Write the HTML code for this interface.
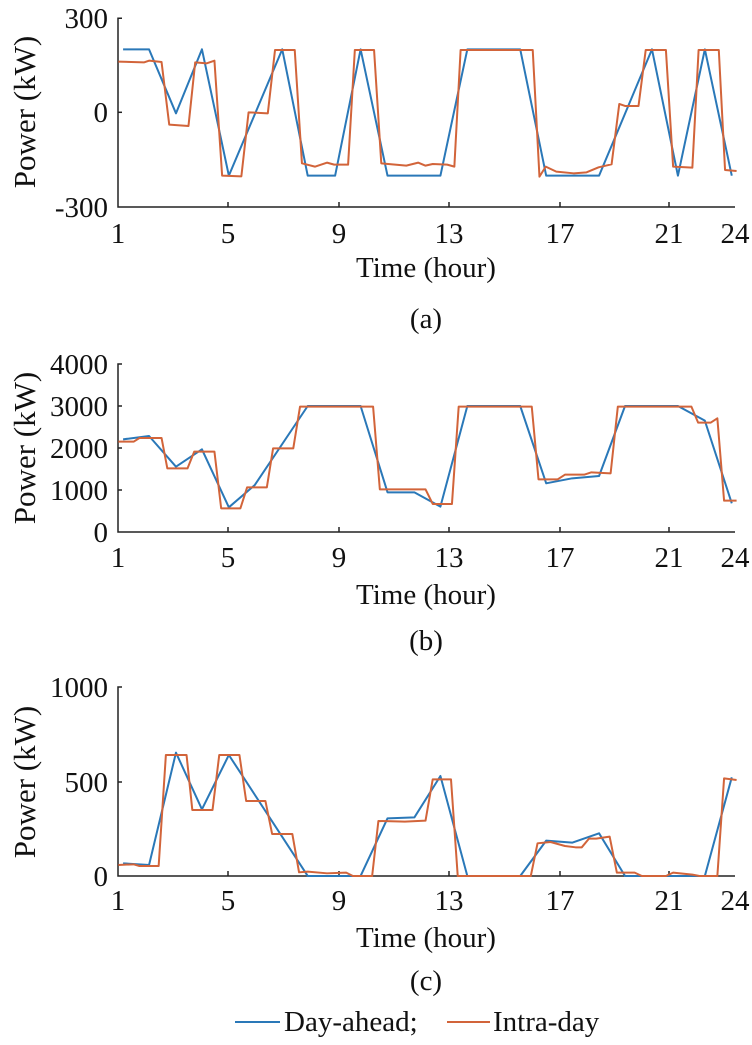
<!DOCTYPE html>
<html><head><meta charset="utf-8"><style>
html,body{margin:0;padding:0;background:#fff;}
svg{display:block;}
</style></head><body>
<svg width="752" height="1045" viewBox="0 0 752 1045" xmlns="http://www.w3.org/2000/svg" font-family="'Liberation Serif', 'DejaVu Serif', serif">
<g font-size="29" fill="#111" font-family="'Liberation Serif', 'DejaVu Serif', serif">
<!-- Panel a -->
<g stroke="#222" stroke-width="1.5" fill="none">
<polyline points="122,18.3 118,18.3 118,207 735,207"/>
<line x1="118" y1="112.3" x2="122" y2="112.3"/>
<line x1="228" y1="207" x2="228" y2="202"/><line x1="339" y1="207" x2="339" y2="202"/><line x1="449" y1="207" x2="449" y2="202"/><line x1="560" y1="207" x2="560" y2="202"/><line x1="669" y1="207" x2="669" y2="202"/>
</g>
<text x="108" y="28" text-anchor="end">300</text>
<text x="108" y="122" text-anchor="end">0</text>
<text x="108" y="217" text-anchor="end">-300</text>
<g text-anchor="middle">
<text x="118" y="243">1</text><text x="228" y="243">5</text><text x="339" y="243">9</text><text x="449" y="243">13</text><text x="560" y="243">17</text><text x="669" y="243">21</text><text x="735" y="243">24</text>
<text x="426" y="277">Time (hour)</text>
<text x="426" y="328">(a)</text>
<text transform="translate(35,112) rotate(-90)" font-size="31">Power (kW)</text>
</g>
<!-- Panel b -->
<g stroke="#222" stroke-width="1.5" fill="none">
<polyline points="122,364 118,364 118,532 735,532"/>
<line x1="118" y1="406" x2="122" y2="406"/><line x1="118" y1="448" x2="122" y2="448"/><line x1="118" y1="490" x2="122" y2="490"/>
<line x1="228" y1="532" x2="228" y2="527"/><line x1="339" y1="532" x2="339" y2="527"/><line x1="449" y1="532" x2="449" y2="527"/><line x1="560" y1="532" x2="560" y2="527"/><line x1="669" y1="532" x2="669" y2="527"/>
</g>
<text x="108" y="374" text-anchor="end">4000</text>
<text x="108" y="416" text-anchor="end">3000</text>
<text x="108" y="458" text-anchor="end">2000</text>
<text x="108" y="500" text-anchor="end">1000</text>
<text x="108" y="542" text-anchor="end">0</text>
<g text-anchor="middle">
<text x="118" y="567">1</text><text x="228" y="567">5</text><text x="339" y="567">9</text><text x="449" y="567">13</text><text x="560" y="567">17</text><text x="669" y="567">21</text><text x="735" y="567">24</text>
<text x="426" y="604">Time (hour)</text>
<text x="426" y="650">(b)</text>
<text transform="translate(35,448) rotate(-90)" font-size="31">Power (kW)</text>
</g>
<!-- Panel c -->
<g stroke="#222" stroke-width="1.5" fill="none">
<polyline points="122,687 118,687 118,876 735,876"/>
<line x1="118" y1="782" x2="122" y2="782"/>
<line x1="228" y1="876" x2="228" y2="871"/><line x1="339" y1="876" x2="339" y2="871"/><line x1="449" y1="876" x2="449" y2="871"/><line x1="560" y1="876" x2="560" y2="871"/><line x1="669" y1="876" x2="669" y2="871"/>
</g>
<text x="108" y="697" text-anchor="end">1000</text>
<text x="108" y="792" text-anchor="end">500</text>
<text x="108" y="886" text-anchor="end">0</text>
<g text-anchor="middle">
<text x="118" y="910">1</text><text x="228" y="910">5</text><text x="339" y="910">9</text><text x="449" y="910">13</text><text x="560" y="910">17</text><text x="669" y="910">21</text><text x="735" y="910">24</text>
<text x="426" y="947">Time (hour)</text>
<text x="426" y="990">(c)</text>
<text transform="translate(35,782) rotate(-90)" font-size="31">Power (kW)</text>
</g>
<!-- legend -->
<line x1="235" y1="1022" x2="280" y2="1022" stroke="#2a78b8" stroke-width="2"/>
<text x="284" y="1031">Day-ahead;</text>
<line x1="447" y1="1022" x2="490" y2="1022" stroke="#d2643a" stroke-width="2"/>
<text x="493" y="1031">Intra-day</text>
</g>

<g fill="none" stroke-width="2" stroke-linejoin="round">
<g transform="scale(0.4808,0.3333)">
<polyline vector-effect="non-scaling-stroke" stroke="#2a78b8" points="256,148 310,148 366,340 420,148 476,527 587,148 640,527 697,527 750,148 806,527 916,527 972,148 1082,148 1136,527 1246,527 1356,148 1410,527 1466,148 1522,527"/>
<polyline vector-effect="non-scaling-stroke" stroke="#d2643a" points="246,185 300,187 310,182 336,186 352,374 392,378 406,187 430,190 446,182 462,527 502,529 517,337 557,340 572,150 613,150 628,490 655,500 680,488 695,494 724,494 738,150 778,150 793,490 845,497 870,488 885,497 900,492 930,494 945,500 958,150 1108,150 1122,530 1135,500 1157,515 1193,520 1220,517 1245,502 1272,493 1288,312 1300,318 1328,318 1343,150 1385,150 1400,500 1440,503 1453,150 1495,150 1508,510 1532,513"/>
</g>
<g transform="translate(0,350) scale(0.4808,0.3333)">
<polyline vector-effect="non-scaling-stroke" stroke="#2a78b8" points="256,268 310,258 366,350 420,298 476,472 530,405 640,168 750,168 806,427 862,427 916,470 972,168 1082,168 1136,400 1190,385 1246,378 1300,168 1410,168 1466,212 1522,460"/>
<polyline vector-effect="non-scaling-stroke" stroke="#d2643a" points="246,275 278,275 290,264 336,264 348,355 390,355 404,305 446,305 460,475 500,475 514,412 555,412 568,295 610,295 624,170 776,170 790,418 885,418 900,462 940,462 954,170 1106,170 1120,388 1160,388 1175,374 1215,374 1230,367 1270,370 1285,170 1438,170 1452,218 1478,218 1492,205 1506,452 1532,452"/>
</g>
<g transform="translate(0,670) scale(0.4808,0.3333)">
<polyline vector-effect="non-scaling-stroke" stroke="#2a78b8" points="256,580 310,585 366,248 420,418 476,255 640,618 750,618 806,445 862,442 916,318 972,618 1082,618 1136,512 1190,518 1246,490 1300,618 1466,618 1522,322"/>
<polyline vector-effect="non-scaling-stroke" stroke="#d2643a" points="246,585 278,583 290,588 330,588 345,255 388,255 400,420 442,420 456,255 498,255 512,393 552,393 566,492 608,492 622,607 640,605 680,610 720,608 734,618 774,618 787,453 842,455 885,452 900,328 938,328 952,618 1104,618 1118,520 1145,516 1175,528 1197,532 1210,532 1225,506 1240,506 1268,500 1283,608 1320,608 1335,618 1385,618 1400,608 1440,614 1455,618 1492,618 1506,325 1532,330"/>
</g>
</g>
</svg>
</body></html>
